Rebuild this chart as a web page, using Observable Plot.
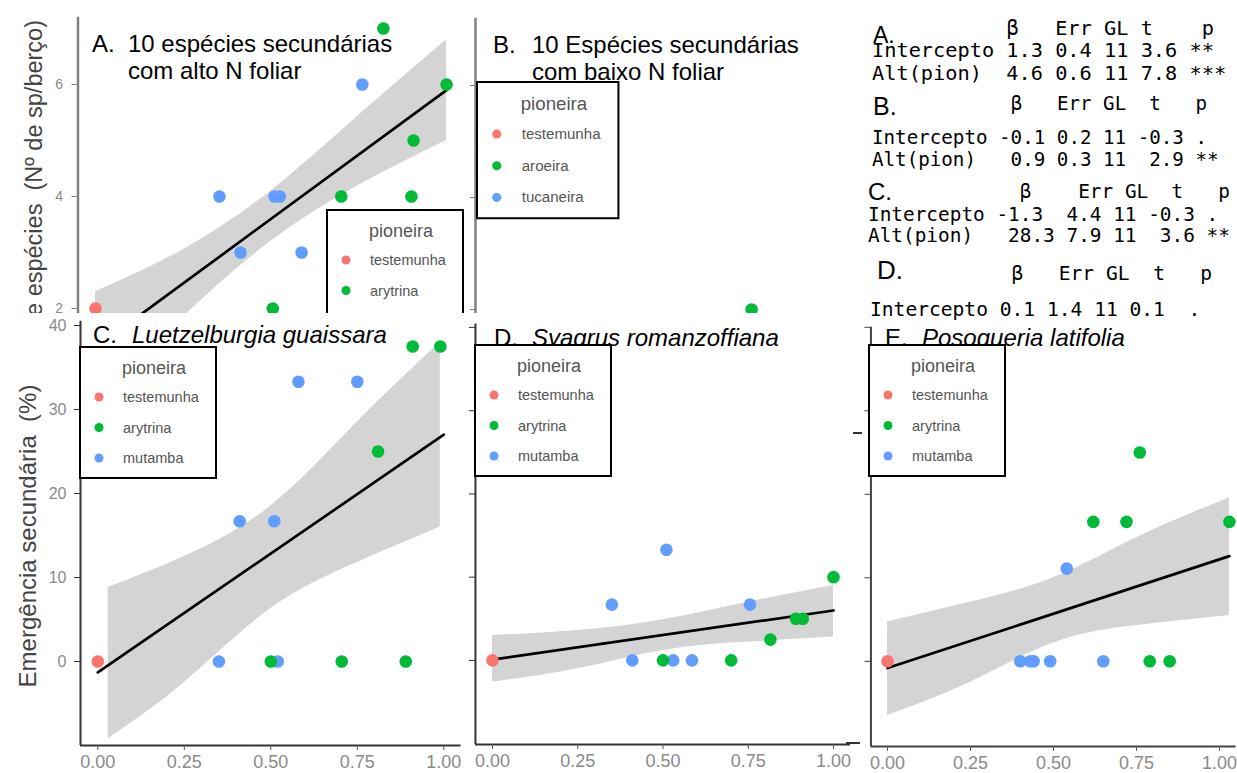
<!DOCTYPE html>
<html><head><meta charset="utf-8">
<script src="https://cdn.jsdelivr.net/npm/d3@7"></script>
<script src="https://cdn.jsdelivr.net/npm/@observablehq/plot@0.6"></script>
<style>
body{margin:0;background:#fff;}
#page{position:relative;width:1237px;height:773px;overflow:hidden;background:#fff;font-family:"Liberation Sans",Arial,sans-serif;}
.panel{position:absolute;overflow:hidden;}
.panel > svg{position:absolute;left:0;top:0;}
</style></head><body><div id="page"></div>
<script>
// ---------- DATA ----------
const groupColors = ["#F8766D", "#00BA38", "#619CFF"];
const pioneiraLabels = ["testemunha", "arytrina", "mutamba"];
const pioneiraLabelsB = ["testemunha", "aroeira", "tucaneira"];
const pioneira = ["testemunha", "mutamba", "mutamba", "mutamba", "mutamba", "mutamba", "mutamba",
  "arytrina", "arytrina", "arytrina", "arytrina", "arytrina", "arytrina"];

// A. riqueza (10 espécies com alto N foliar)
const altA = [0, 0.353, 0.413, 0.51, 0.525, 0.587, 0.76, 0.505, 0.70, 0.82, 0.90, 0.906, 1.0];
const riquezaA = [2, 4, 3, 4, 4, 3, 6, 2, 4, 7, 4, 5, 6];
const fitXA = [0, 1], fitYA = [1.3, 5.9];
const bandXA = [0, 0.25, 0.5, 0.75, 1];
const bandLoA = [0.3, 1.85, 3.2, 4.2, 5.0];
const bandHiA = [2.3, 3.05, 4.1, 5.45, 6.8];

// B. riqueza (baixo N foliar) - only the visible point
const altB = [0.76];
const riquezaB = [2];
const pioneiraB = ["aroeira"];

// C. Luetzelburgia guaissara
const altC = [0, 0.35, 0.41, 0.51, 0.52, 0.58, 0.75, 0.50, 0.705, 0.81, 0.89, 0.91, 0.99];
const emergC = [0, 0, 16.7, 16.7, 0, 33.3, 33.3, 0, 0, 25, 0, 37.5, 37.5];
const fitXC = [0, 1], fitYC = [-1.3, 27.0];
const bandXC = [0.03, 0.25, 0.5, 0.75, 0.99];
const bandLoC = [-9.2, -2.5, 6.3, 11.8, 16.0];
const bandHiC = [8.8, 12.5, 18.5, 28.5, 38.0];

// D. Syagrus romanzoffiana
const altD = [0, 0.35, 0.41, 0.51, 0.53, 0.585, 0.755, 0.50, 0.70, 0.815, 0.89, 0.91, 1.0];
const emergD = [0, 6.7, 0, 13.3, 0, 0, 6.7, 0, 0, 2.5, 5, 5, 10];
const fitXD = [0, 1], fitYD = [0.1, 6.0];
const bandXD = [0, 0.25, 0.5, 0.75, 1];
const bandLoD = [-2.6, -1.0, 1.2, 2.2, 2.8];
const bandHiD = [3.0, 3.6, 4.9, 7.0, 9.0];

// E. Posoqueria latifolia
const altE = [0, 0.40, 0.43, 0.44, 0.49, 0.54, 0.65, 0.62, 0.72, 0.76, 0.79, 0.85, 1.03];
const emergE = [0, 0, 0, 0, 0, 11.1, 0, 16.7, 16.7, 25, 0, 0, 16.7];
const fitXE = [0, 1.03], fitYE = [-0.8, 12.6];
const bandXE = [0, 0.25, 0.5, 0.75, 1.03];
const bandLoE = [-6.5, -2.5, 2.2, 4.3, 5.5];
const bandHiE = [4.7, 7.1, 10.0, 14.8, 19.6];

// ticks
const xTicks = [0, 0.25, 0.5, 0.75, 1];
const xTickLabels = ["0.00", "0.25", "0.50", "0.75", "1.00"];
const yTicksA = [2, 4, 6];
const yTicksC = [0, 10, 20, 30, 40];

// stats table
const tableLabels = ["A.", "B.", "C.", "D."];
const tableHeaders = ["           β   Err GL t    p", "            β   Err GL  t   p", "             β    Err GL  t   p", "            β   Err GL  t   p"];
const tableRow1 = ["Intercepto 1.3 0.4 11 3.6 **", "Intercepto -0.1 0.2 11 -0.3 .", "Intercepto -1.3  4.4 11 -0.3 .", "Intercepto 0.1 1.4 11 0.1  ."];
const tableRow2 = ["Alt(pion)  4.6 0.6 11 7.8 ***", "Alt(pion)   0.9 0.3 11  2.9 **", "Alt(pion)   28.3 7.9 11  3.6 **", null];

// ---------- HELPERS ----------
const page = d3.select("#page");
const FONT = "'Liberation Sans', Arial, sans-serif";
const zipPts = (xs, ys, gs) => xs.map((x, i) => ({x, y: ys[i], g: gs[i]}));
const zipLine = (xs, ys) => xs.map((x, i) => ({x, y: ys[i]}));
const zipBand = (xs, lo, hi) => xs.map((x, i) => ({x, lo: lo[i], hi: hi[i]}));

function addPanel(left, top, width, height) {
  return page.append("div").attr("class", "panel")
    .style("left", left + "px").style("top", top + "px")
    .style("width", width + "px").style("height", height + "px");
}
function addOverlay(div, left, top) {
  return div.append("svg").attr("width", 1237).attr("height", 773)
    .style("position", "absolute").style("left", (-left) + "px").style("top", (-top) + "px")
    .style("overflow", "visible");
}

function buildPlot(c) {
  const marks = [];
  if (c.band) marks.push(Plot.areaY(c.band, {x: "x", y1: "lo", y2: "hi", fill: "#999999", fillOpacity: 0.42, curve: "natural"}));
  if (c.fit) marks.push(Plot.line(c.fit, {x: "x", y: "y", stroke: "#000", strokeWidth: 2.7}));
  marks.push(Plot.dot(c.pts, {x: "x", y: "y", fill: "g", r: 6.3}));
  marks.push(Plot.ruleX([c.xDomain[0]], {stroke: c.axisColor, strokeWidth: c.axisWidth}));
  marks.push(Plot.axisY({ticks: c.yTicks, tickSize: 6, tickFormat: () => "", color: c.axisColor, label: null}));
  if (c.yLabels) marks.push(Plot.axisY({ticks: c.yTicks, tickSize: 0, tickPadding: c.yPad, fontSize: c.yFont, color: "#8a8a8a", label: null}));
  if (c.xAxis) {
    marks.push(Plot.ruleY([c.yDomain[0]], {stroke: c.axisColor, strokeWidth: c.axisWidth}));
    marks.push(Plot.axisX({ticks: xTicks, tickSize: 5, tickFormat: () => "", color: "#555", label: null}));
    marks.push(Plot.axisX({ticks: xTicks, tickSize: 0, tickPadding: 10, fontSize: 18, color: "#8a8a8a",
      tickFormat: d => xTickLabels[xTicks.indexOf(d)], label: null}));
  }
  return Plot.plot({
    width: c.width, height: c.height,
    marginLeft: c.ml, marginRight: c.mr, marginTop: c.mt, marginBottom: c.mb,
    x: {domain: c.xDomain, label: null, axis: c.xAxis ? undefined : null},
    y: {domain: c.yDomain, label: null},
    color: {domain: c.colorDomain, range: groupColors},
    style: {background: "transparent", fontFamily: FONT, overflow: "visible"},
    marks
  });
}

function drawTitle(svg, letter, lx, lines, tx, ys, italic) {
  svg.append("text").attr("x", lx).attr("y", ys[0]).attr("font-size", 24).attr("font-family", FONT).attr("fill", "#000").text(letter);
  lines.forEach((t, i) => {
    svg.append("text").attr("x", tx).attr("y", ys[i]).attr("font-size", 24).attr("font-family", FONT)
      .attr("font-style", italic ? "italic" : "normal").attr("fill", "#000").text(t);
  });
}
function drawLegend(svg, left, top, labels, s) {
  const g = svg.append("g");
  g.append("rect").attr("x", left).attr("y", top).attr("width", 136 * s).attr("height", 131 * s)
    .attr("fill", "#fff").attr("stroke", "#000").attr("stroke-width", 2);
  g.append("text").attr("x", left + 42 * s).attr("y", top + 27 * s).attr("font-size", 18 * s)
    .attr("font-family", FONT).attr("fill", "#555").text("pioneira");
  labels.forEach((lab, i) => {
    const cy = top + (50 + 30.5 * i) * s;
    g.append("circle").attr("cx", left + 19 * s).attr("cy", cy).attr("r", 4.5).attr("fill", groupColors[i]);
    g.append("text").attr("x", left + 43 * s).attr("y", cy + 5).attr("font-size", 14.5 * s)
      .attr("font-family", FONT).attr("fill", "#555").text(lab);
  });
}
function rotLabel(svg, x, y, anchor, size, text) {
  svg.append("text").attr("transform", `translate(${x},${y}) rotate(-90)`).attr("text-anchor", anchor)
    .attr("font-size", size).attr("font-family", FONT).attr("fill", "#444")
    .style("white-space", "pre").text(text);
}

// ---------- PANEL A ----------
{
  const L = 0, T = 0;
  const div = addPanel(L, T, 470, 313);
  div.node().appendChild(buildPlot({
    width: 470, height: 460, ml: 77.5, mr: 6.4, mt: 16.8, mb: 40,
    xDomain: [-0.05, 1.05], yDomain: [0, 7.2], colorDomain: pioneiraLabels,
    pts: zipPts(altA, riquezaA, pioneira), fit: zipLine(fitXA, fitYA), band: zipBand(bandXA, bandLoA, bandHiA),
    yTicks: yTicksA, yLabels: true, yPad: 15, yFont: 14, axisColor: "#808080", axisWidth: 2.5, xAxis: false
  }));
  const o = addOverlay(div, L, T);
  rotLabel(o, 42, 20, "end", 23.5, "Riqueza de espécies  (Nº de sp/berço)");
  drawTitle(o, "A.", 92, ["10 espécies secundárias", "com alto N foliar"], 128, [52, 79], false);
  drawLegend(o, 327, 210, pioneiraLabels, 1);
}

// ---------- PANEL B ----------
{
  const L = 470, T = 0;
  const div = addPanel(L, T, 380, 313);
  div.node().appendChild(buildPlot({
    width: 380, height: 460, ml: 5, mr: 0, mt: 17.8, mb: 39,
    xDomain: [-0.05, 1.05], yDomain: [0, 7.2], colorDomain: pioneiraLabelsB,
    pts: zipPts(altB, riquezaB, pioneiraB),
    yTicks: yTicksA, yLabels: false, axisColor: "#808080", axisWidth: 2.5, xAxis: false
  }));
  const o = addOverlay(div, L, T);
  drawTitle(o, "B.", 493, ["10 Espécies secundárias", "com baixo N foliar"], 532, [53, 80], false);
  drawLegend(o, 477, 82, pioneiraLabelsB, 1.04);
}

// ---------- TABLE ----------
{
  const L = 850, T = 0;
  const div = addPanel(L, T, 387, 320);
  const o = addOverlay(div, L, T);
  const lay = [
    {lx: 873, ly: 43, ls: 23, tx: 872, fs: 20.3, ys: [35, 57, 80]},
    {lx: 873, ly: 115, ls: 25, tx: 872, fs: 19.2, ys: [110, 144, 166]},
    {lx: 868, ly: 200, ls: 24, tx: 868, fs: 19.4, ys: [198, 221, 242]},
    {lx: 877, ly: 279, ls: 26, tx: 870, fs: 19.6, ys: [280, 316, 340]}
  ];
  lay.forEach((p, i) => {
    o.append("text").attr("x", p.lx).attr("y", p.ly).attr("font-size", p.ls).attr("font-family", FONT).text(tableLabels[i]);
    const cw = p.fs * 0.602;
    [tableHeaders[i], tableRow1[i], tableRow2[i]].forEach((t, j) => {
      if (!t) return;
      const lead = t.length - t.trimStart().length;
      o.append("text").attr("x", p.tx + lead * cw).attr("y", p.ys[j]).attr("font-size", p.fs)
        .attr("font-family", "'DejaVu Sans Mono', monospace").style("white-space", "pre").text(t.trimStart());
    });
  });
}

// ---------- PANEL C ----------
{
  const L = 0, T = 313;
  const div = addPanel(L, T, 465, 460);
  div.node().appendChild(buildPlot({
    width: 465, height: 460, ml: 80, mr: 4.4, mt: 7.8, mb: 28,
    xDomain: [-0.05, 1.05], yDomain: [-10, 40.5], colorDomain: pioneiraLabels,
    pts: zipPts(altC, emergC, pioneira), fit: zipLine(fitXC, fitYC), band: zipBand(bandXC, bandLoC, bandHiC),
    yTicks: yTicksC, yLabels: true, yPad: 14, yFont: 16, axisColor: "#333", axisWidth: 2, xAxis: true
  }));
  const o = addOverlay(div, L, T);
  rotLabel(o, 36, 536, "middle", 24, "Emergência secundária  (%)");
  drawTitle(o, "C.", 93, ["Luetzelburgia guaissara"], 132, [343], true);
  drawLegend(o, 80, 347, pioneiraLabels, 1);
}

// ---------- PANEL D ----------
{
  const L = 462, T = 313;
  const div = addPanel(L, T, 395, 460);
  div.node().appendChild(buildPlot({
    width: 395, height: 460, ml: 12.95, mr: 6.95, mt: 10.6, mb: 29,
    xDomain: [-0.05, 1.05], yDomain: [-10.1, 40.4], colorDomain: pioneiraLabels,
    pts: zipPts(altD, emergD, pioneira), fit: zipLine(fitXD, fitYD), band: zipBand(bandXD, bandLoD, bandHiD),
    yTicks: yTicksC, yLabels: false, axisColor: "#333", axisWidth: 2, xAxis: true
  }));
  const o = addOverlay(div, L, T);
  drawTitle(o, "D.", 494, ["Syagrus romanzoffiana"], 532, [346], true);
  drawLegend(o, 475, 345, pioneiraLabels, 1);
}

// ---------- PANEL E ----------
{
  const L = 857, T = 320;
  const div = addPanel(L, T, 380, 453);
  div.node().appendChild(buildPlot({
    width: 380, height: 453, ml: 13.45, mr: 1.45, mt: 6.8, mb: 27,
    xDomain: [-0.05, 1.05], yDomain: [-10.2, 40], colorDomain: pioneiraLabels,
    pts: zipPts(altE, emergE, pioneira), fit: zipLine(fitXE, fitYE), band: zipBand(bandXE, bandLoE, bandHiE),
    yTicks: yTicksC, yLabels: false, axisColor: "#444", axisWidth: 2, xAxis: true
  }));
  const o = addOverlay(div, L, T);
  drawTitle(o, "E.", 885, ["Posoqueria latifolia"], 922, [346], true);
  drawLegend(o, 869, 345, pioneiraLabels, 1);
}

// stray tick marks between D and E
page.append("div").style("position", "absolute").style("left", "853px").style("top", "432px")
  .style("width", "9px").style("height", "2px").style("background", "#333");
page.append("div").style("position", "absolute").style("left", "846px").style("top", "742px")
  .style("width", "14px").style("height", "2px").style("background", "#333");
</script></body></html>
